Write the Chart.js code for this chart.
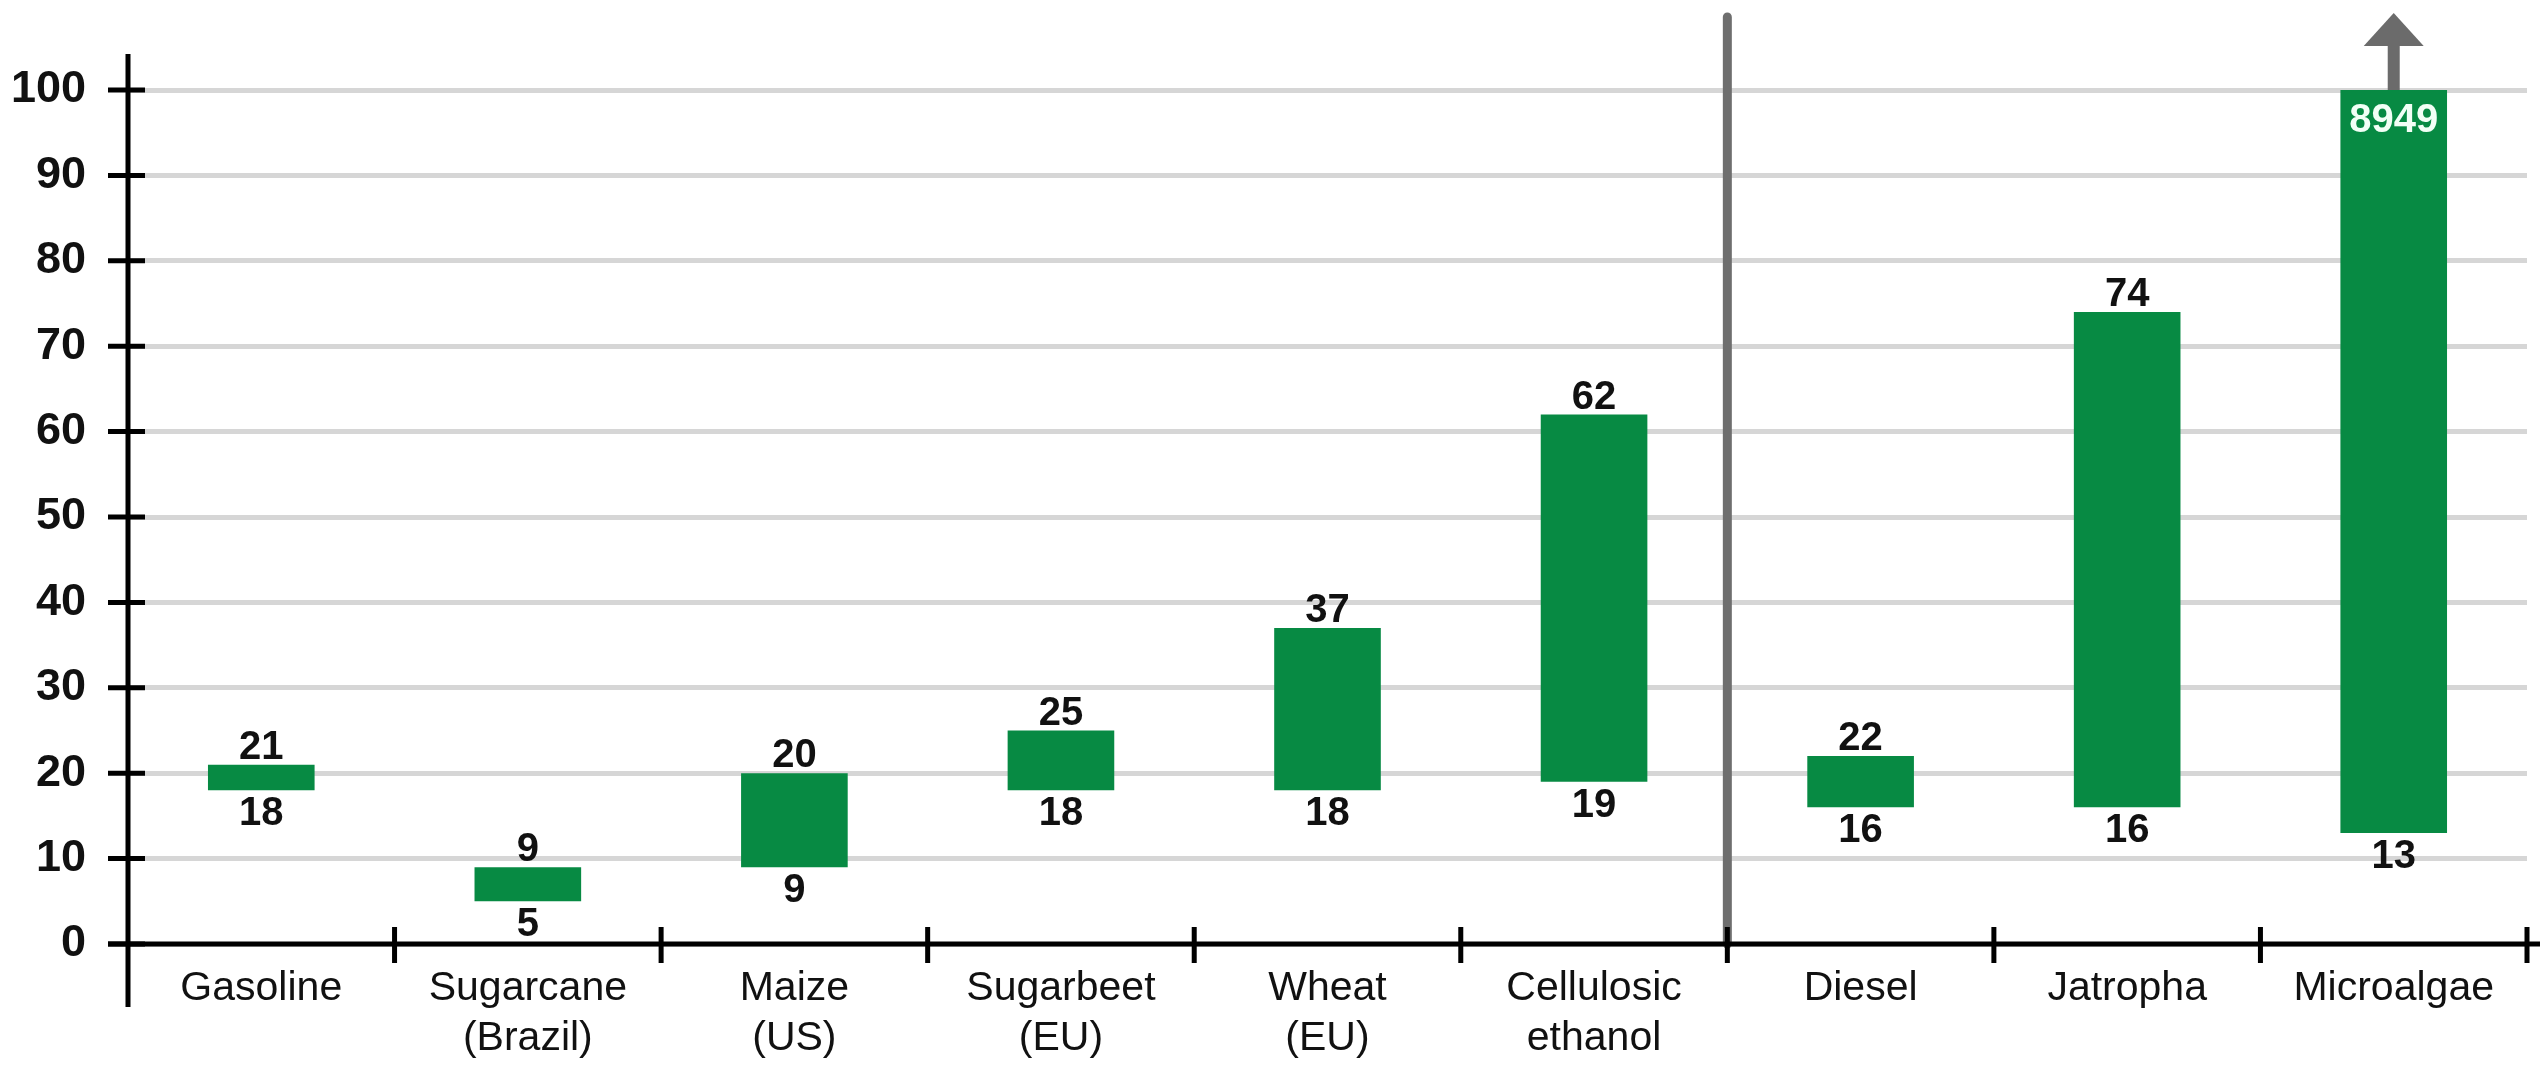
<!DOCTYPE html>
<html>
<head>
<meta charset="utf-8">
<title>Biofuel ranges</title>
<script src="https://cdn.jsdelivr.net/npm/chart.js@4.4.1/dist/chart.umd.min.js"></script>
<style>
  html, body { margin: 0; padding: 0; background: #ffffff; }
  #wrap { width: 2546px; height: 1066px; }
</style>
</head>
<body>
<div id="wrap"><canvas id="chart" width="2546" height="1066"></canvas></div>
<script>
// Categories (multi-line labels as arrays)
const categories = [
  'Gasoline',
  ['Sugarcane', '(Brazil)'],
  ['Maize', '(US)'],
  ['Sugarbeet', '(EU)'],
  ['Wheat', '(EU)'],
  ['Cellulosic', 'ethanol'],
  'Diesel',
  'Jatropha',
  'Microalgae'
];

// Lower and upper end of each range
const lowValues  = [18, 5, 9, 18, 18, 19, 16, 16, 13];
const highValues = [21, 9, 20, 25, 37, 62, 22, 74, 8949];

// Value axis ticks
const yMin = 0;
const yMax = 100;
const yStep = 10;

// Ethanol group ends after this many categories; diesel group follows
const dividerIndex = 6;

const FONT = '"Liberation Sans", Arial, Helvetica, sans-serif';
const BAR_GREEN = '#078a43';

const ranges = lowValues.map((lo, i) => [lo, highValues[i]]);

// Axes, divider, overflow arrow and the end-value labels
const decorations = {
  id: 'decorations',
  afterDatasetsDraw(chart) {
    const { ctx, chartArea: a, scales: { x, y } } = chart;
    const y0 = y.getPixelForValue(0);
    const step = x.getPixelForValue(1) - x.getPixelForValue(0);
    const boundary = i => x.getPixelForValue(i) - step / 2;

    ctx.save();

    // group divider
    ctx.strokeStyle = '#6e6e6e';
    ctx.lineWidth = 9;
    ctx.lineCap = 'round';
    const dx = boundary(dividerIndex);
    ctx.beginPath();
    ctx.moveTo(dx, a.top - 73);
    ctx.lineTo(dx, y0);
    ctx.stroke();

    // axes
    ctx.strokeStyle = '#000000';
    ctx.lineWidth = 5;
    ctx.lineCap = 'butt';
    ctx.beginPath();
    ctx.moveTo(a.left, a.top - 36);
    ctx.lineTo(a.left, y0 + 63);
    ctx.moveTo(a.left - 20, y0);
    ctx.lineTo(a.right + 13, y0);
    ctx.stroke();

    // y tick marks crossing the axis
    ctx.beginPath();
    y.ticks.forEach(t => {
      const py = y.getPixelForValue(t.value);
      ctx.moveTo(a.left - 20, py);
      ctx.lineTo(a.left + 17, py);
    });
    // x tick marks at category boundaries
    for (let i = 1; i <= categories.length; i++) {
      const px = boundary(i);
      ctx.moveTo(px, y0 - 17);
      ctx.lineTo(px, y0 + 19);
    }
    ctx.stroke();

    // value labels
    const meta = chart.getDatasetMeta(0);
    ctx.textAlign = 'center';
    ctx.textBaseline = 'alphabetic';
    ctx.font = 'bold 40px ' + FONT;
    meta.data.forEach((bar, i) => {
      const [lo, hi] = ranges[i];
      const cx = bar.x;
      const pLo = y.getPixelForValue(lo);
      ctx.fillStyle = '#111111';
      ctx.fillText(String(lo), cx, pLo + 35);
      if (hi > y.max) {
        // range runs off the scale: arrow above, value inside the bar
        ctx.fillStyle = '#6b6b6b';
        ctx.fillRect(cx - 6, a.top - 46, 12, 46);
        ctx.beginPath();
        ctx.moveTo(cx - 30, a.top - 44);
        ctx.lineTo(cx + 30, a.top - 44);
        ctx.lineTo(cx, a.top - 77);
        ctx.closePath();
        ctx.fill();
        ctx.fillStyle = '#f2fff6';
        ctx.fillText(String(hi), cx, a.top + 42);
      } else {
        const pHi = y.getPixelForValue(hi);
        ctx.fillText(String(hi), cx, pHi - 6);
      }
    });

    ctx.restore();
  }
};

new Chart(document.getElementById('chart'), {
  type: 'bar',
  data: {
    labels: categories,
    datasets: [{
      data: ranges,
      backgroundColor: BAR_GREEN,
      borderWidth: 0,
      barPercentage: 0.4,
      categoryPercentage: 1.0
    }]
  },
  options: {
    responsive: false,
    animation: false,
    events: [],
    layout: { padding: { top: 90, right: 19, left: 0, bottom: 0 } },
    plugins: {
      legend: { display: false },
      tooltip: { enabled: false }
    },
    scales: {
      x: {
        offset: true,
        grid: { display: false, drawTicks: false },
        border: { display: false },
        ticks: {
          color: '#111111',
          padding: 20,
          maxRotation: 0,
          autoSkip: false,
          font: { family: FONT, size: 41, lineHeight: 1.22 }
        },
        afterFit: s => { s.height = 122; }
      },
      y: {
        min: yMin,
        max: yMax,
        grid: { color: '#d6d6d6', lineWidth: 5, drawTicks: false },
        border: { display: false },
        ticks: {
          stepSize: yStep,
          color: '#111111',
          padding: 42,
          font: { family: FONT, size: 45, weight: 'bold' }
        },
        afterFit: s => { s.width = 128; }
      }
    }
  },
  plugins: [decorations]
});
</script>
</body>
</html>
